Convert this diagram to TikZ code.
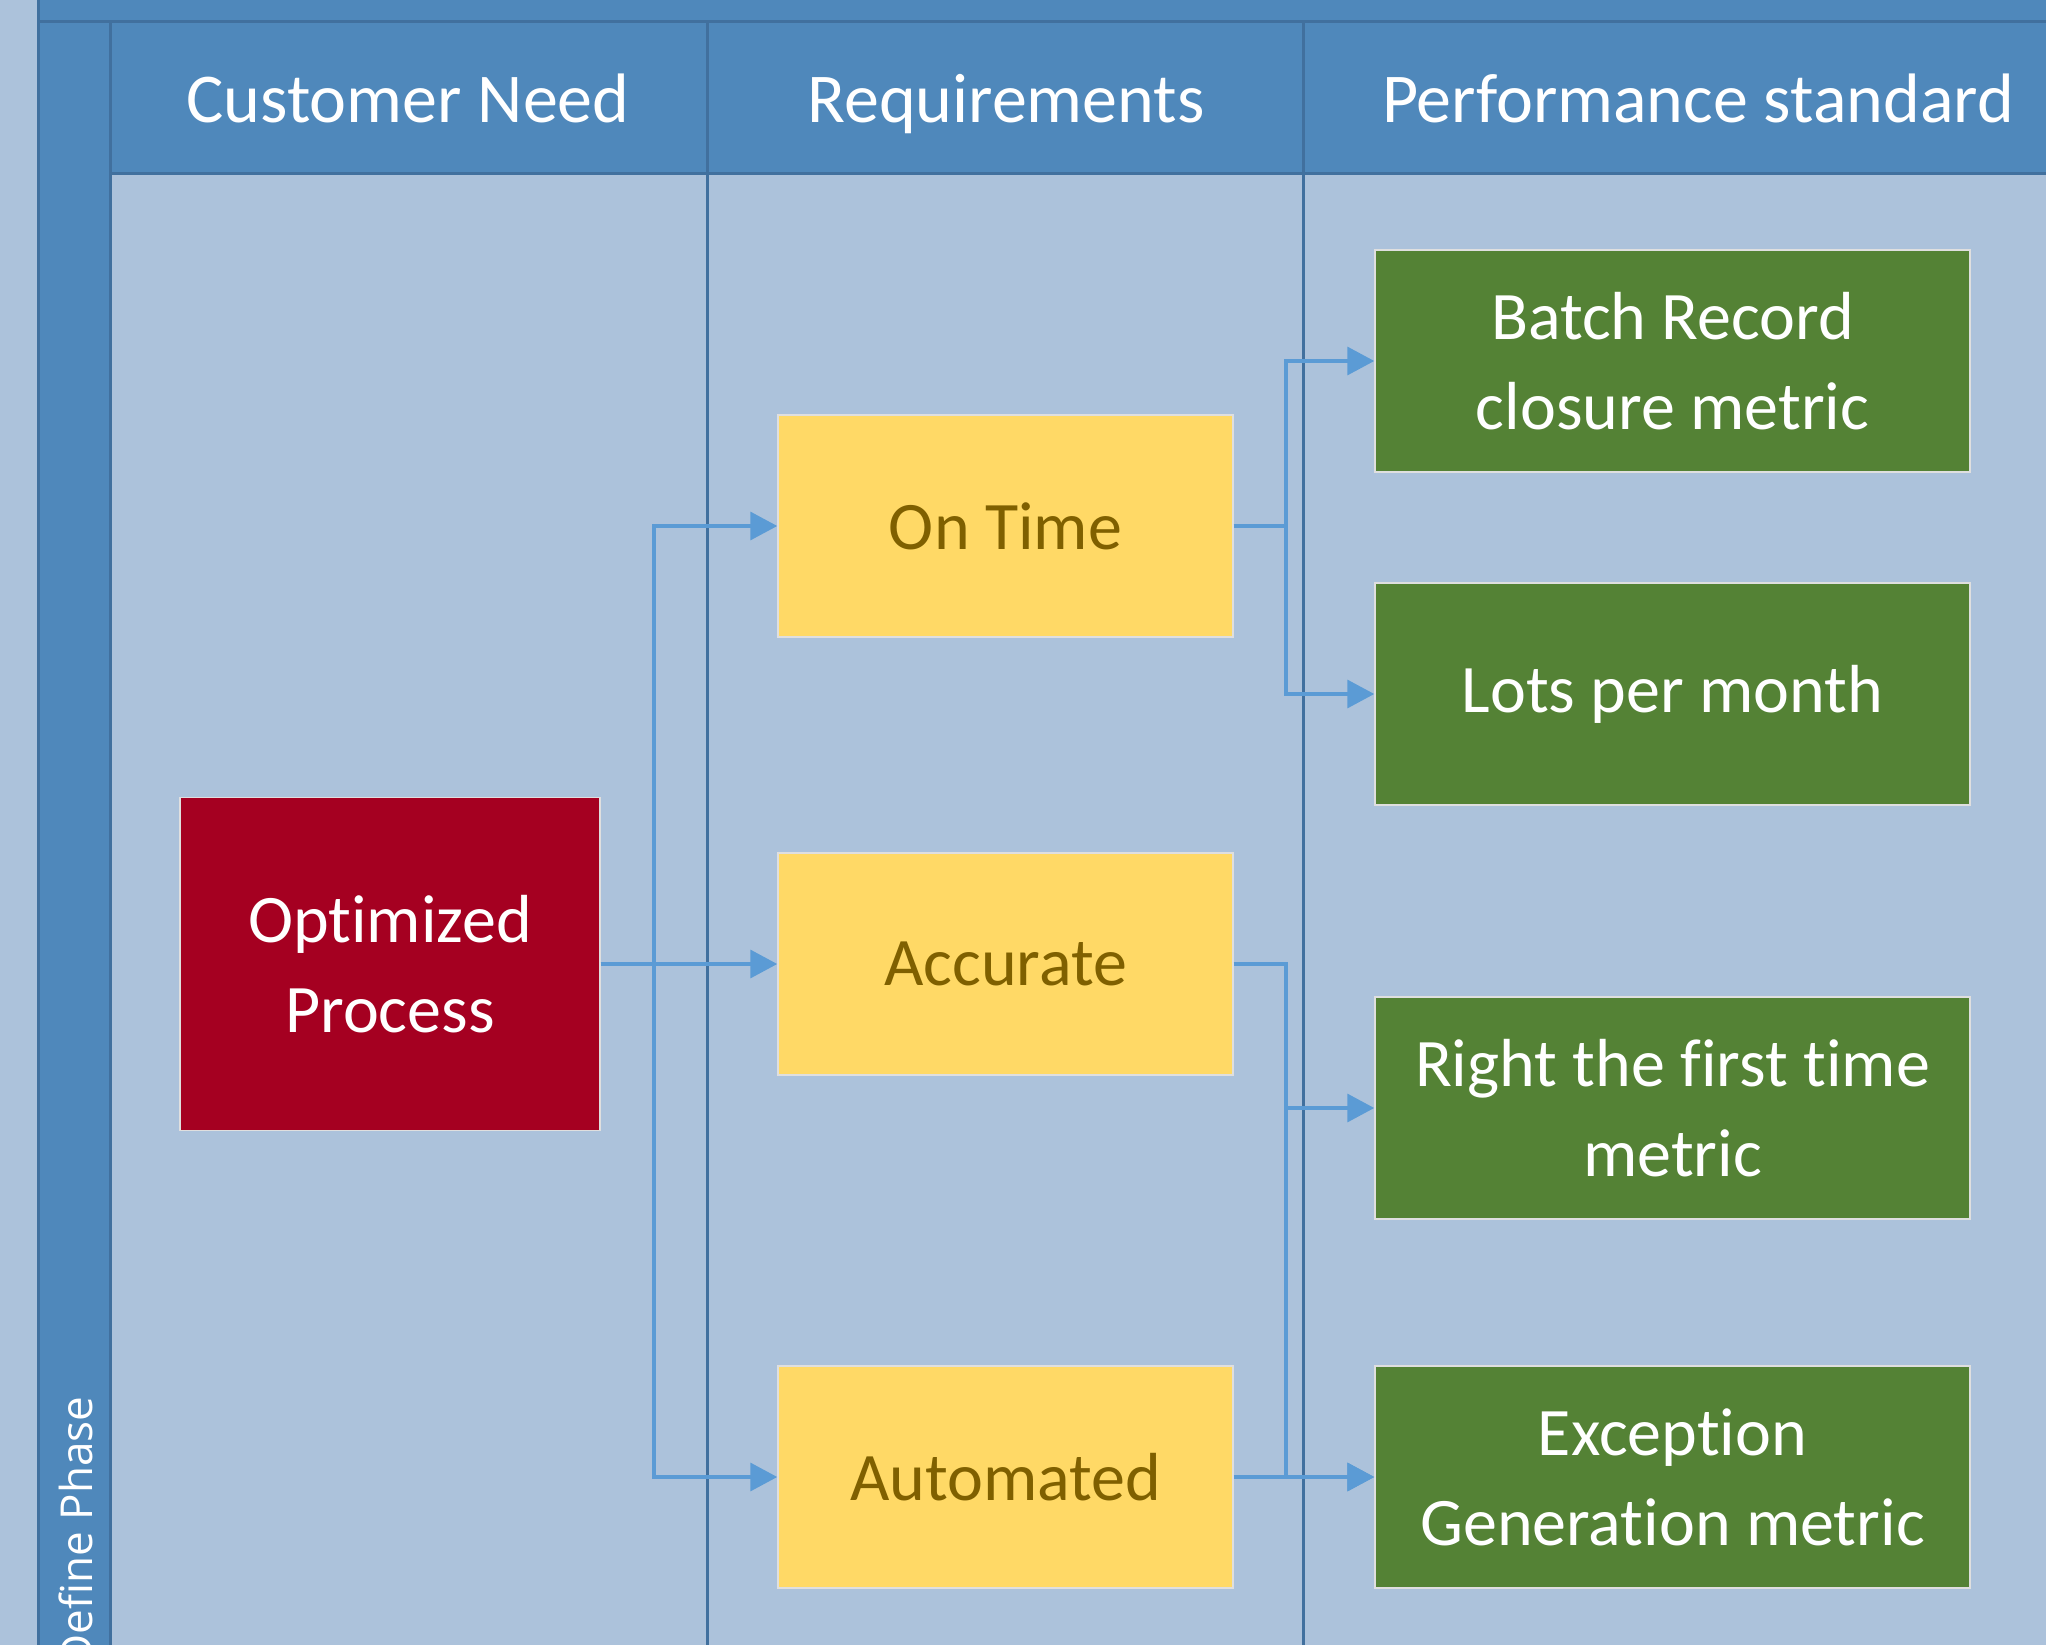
\documentclass[tikz,border=0pt]{standalone}
\usepackage{fontspec}
\setmainfont{Carlito}[RawFeature={-liga;-clig;-dlig}]
\newfontfamily\phasefont{Open Sans}
\usetikzlibrary{arrows.meta}

\definecolor{lanebg}{HTML}{ACC2DB}
\definecolor{laneblue}{HTML}{4F88BB}
\definecolor{laneline}{HTML}{41709E}
\definecolor{linkblue}{HTML}{5B9BD5}
\definecolor{needred}{HTML}{A50021}
\definecolor{reqyellow}{HTML}{FFD966}
\definecolor{reqtext}{HTML}{7F6000}
\definecolor{stdgreen}{HTML}{548235}

\begin{document}
\begin{tikzpicture}[x=1pt,y=-1pt]
\tikzset{box/.style = {rectangle, draw=white!75!gray, line width=1.5pt, inner sep=0pt, align=center, font=\fontsize{68}{90}\selectfont}}
\tikzset{need/.style = {box, fill=needred, text=white, minimum width=420pt, minimum height=333pt}}
\tikzset{req/.style = {box, fill=reqyellow, text=reqtext, minimum width=455pt, minimum height=222pt}}
\tikzset{std/.style = {box, fill=stdgreen, text=white, minimum width=595pt, minimum height=222pt}}
\tikzset{edge/.style = {-{Triangle[length=27pt,width=28pt]}, draw=linkblue, line width=3.5pt}}
\tikzset{lane title/.style = {anchor=base, text=white, font=\fontsize{70}{84}\selectfont}}
\tikzset{lane line/.style = {draw=laneline, line width=3pt}}

   % pool background and frame
   \fill[lanebg] (0,0) rectangle (2046,1645);
   \useasboundingbox (0,0) rectangle (2046,1645);
   \fill[laneblue] (38,0) rectangle (2046,174);
   \fill[laneblue] (38,0) rectangle (110,1645);

   \draw[lane line] (38,0) -- (38,1645);
   \draw[lane line] (38,22) -- (2046,22);
   \draw[lane line] (110,174) -- (2046,174);
   \foreach \x in {110,707,1303}
     {\draw[lane line] (\x,22) -- (\x,1645);}

   \node[lane title] (needhead) at (408,123) {Customer Need};
   \node[lane title] (reqhead) at (1006,123) {Requirements};
   \node[lane title] (stdhead) at (1698,123) {Performance standard};
   \node[text=white, rotate=90, anchor=east, font=\phasefont\fontsize{44}{50}\selectfont] (phase) at (76,1393) {Define Phase};

   % boxes
   \node[need] (optproc) at (390,964) {Optimized\\Process};

   \node[req] (ontime) at (1005.5,526) {On Time};
   \node[req] (accurate) at (1005.5,964) {Accurate};
   \node[req] (automated) at (1005.5,1477) {Automated};

   \node[std] (batch) at (1672.5,361) {Batch Record\\closure metric};
   \node[std] (lots) at (1672.5,694) {Lots per month};
   \node[std] (rft) at (1672.5,1108) {Right the first time\\metric};
   \node[std] (exception) at (1672.5,1477) {Exception\\Generation metric};

   % links
   \coordinate (leftbus) at (654,0);
   \coordinate (rightbus) at (1286,0);

   \draw[edge] (optproc) -- (accurate);
   \draw[edge] (optproc.east) -- (optproc.east -| leftbus) |- (ontime.west);
   \draw[edge] (optproc.east) -- (optproc.east -| leftbus) |- (automated.west);

   \draw[edge] (ontime.east) -- (ontime.east -| rightbus) |- (batch.west);
   \draw[edge] (ontime.east) -- (ontime.east -| rightbus) |- (lots.west);
   \draw[edge] (accurate.east) -- (accurate.east -| rightbus) |- (rft.west);
   \draw[edge] (accurate.east) -- (accurate.east -| rightbus) |- (exception.west);
   \draw[edge] (automated) -- (exception);

\end{tikzpicture}
\end{document}
